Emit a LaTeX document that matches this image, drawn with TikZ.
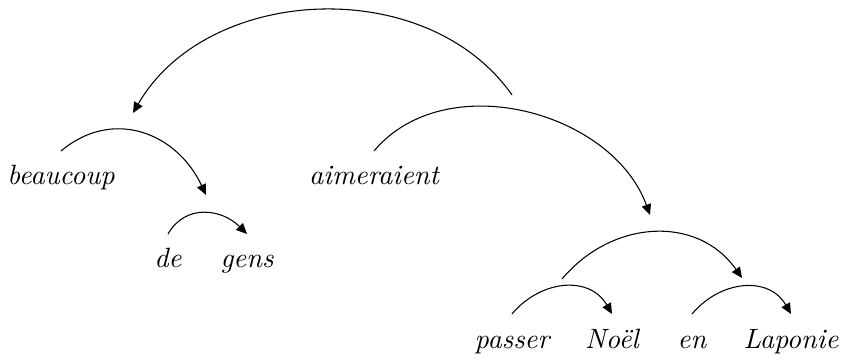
\documentclass[tikz,border=0pt]{standalone}
\usetikzlibrary{arrows.meta,calc}
\begin{document}
\begin{tikzpicture}[x=0.0132cm, y=0.0132cm, font=\fontsize{10.5}{12.6}\selectfont\itshape, thin,
  dep/.style={-{Triangle[length=4pt,width=3.6pt]}}]
\useasboundingbox (0,0) rectangle (841,-359);
\foreach \n/\x/\y/\w in {beaucoup/61/185/beaucoup, aimeraient/374/185/aimeraient,
  de/168/268/de, gens/247/268/gens, passer/512/348/passer, noel/612/348/Noël,
  en/692/348/en, laponie/791/348/Laponie} {
  \node[anchor=base, inner sep=0pt] (\n) at (\x,-\y) {\w};
  \coordinate (\n-top) at ($(\n.base)+(0,34)$);
}
\coordinate (degens) at (206,-195);
\coordinate (pn) at (562,-279);
\coordinate (el) at (742,-278);
\coordinate (phrase) at (650,-215);
\coordinate (subj) at (133,-113);
\coordinate (pred) at (512,-95);
\draw[dep] (pred) to[out=125, in=60] (subj);
\draw[dep] (aimeraient-top) to[out=50, in=110] (phrase);
\draw[dep] (beaucoup-top) to[out=40, in=115, looseness=1.15] (degens);
\draw[dep] (de-top) to[out=60, in=135, looseness=1.15] (gens-top);
\draw[dep] (pn) to[out=50, in=125, looseness=1.1] (el);
\draw[dep] (passer-top) to[out=50, in=120, looseness=1.15] (noel-top);
\draw[dep] (en-top) to[out=50, in=120, looseness=1.15] (laponie-top);
\end{tikzpicture}
\end{document}
